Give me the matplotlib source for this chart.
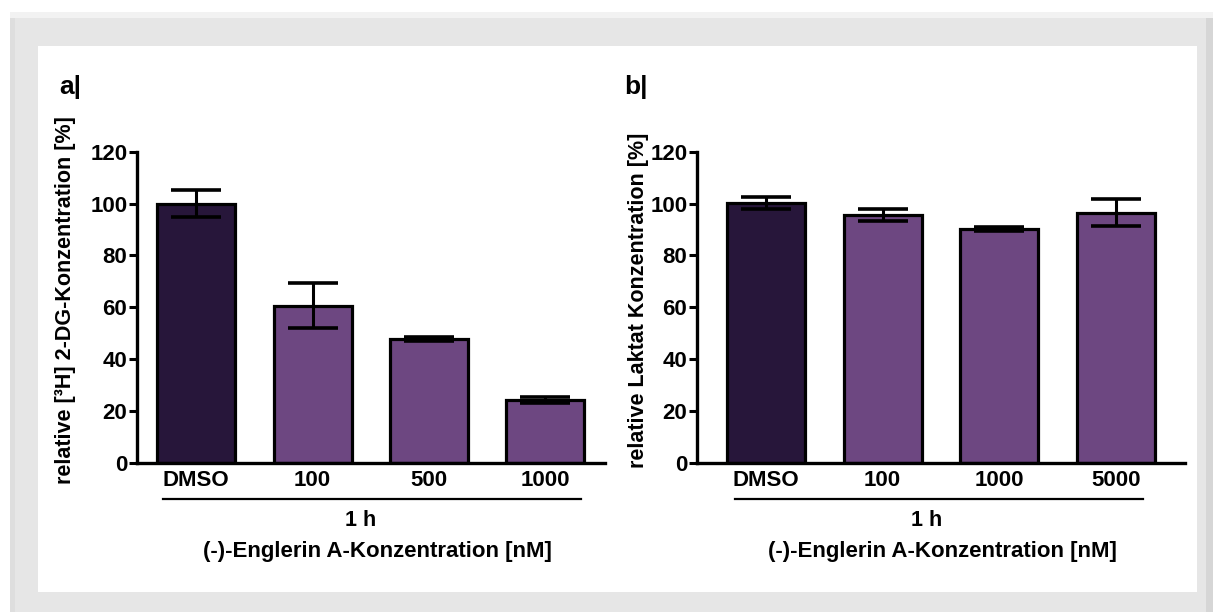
import matplotlib
matplotlib.use('Agg')
import matplotlib.pyplot as plt
from matplotlib.patches import Rectangle
from matplotlib.lines import Line2D

plt.rcParams['font.family'] = ['Liberation Sans', 'DejaVu Sans']
plt.rcParams['font.weight'] = 'bold'

# panel a: 2-DG uptake
A_CATEGORIES = ['DMSO', '100', '500', '1000']
A_VALUES = [100.0, 60.6, 47.8, 24.2]
A_ERRORS = [5.2, 8.7, 0.8, 1.0]

# panel b: lactate
B_CATEGORIES = ['DMSO', '100', '1000', '5000']
B_VALUES = [100.2, 95.7, 90.3, 96.5]
B_ERRORS = [2.5, 2.3, 0.8, 5.2]

Y_TICKS = [0, 20, 40, 60, 80, 100, 120]

DARK = '#27163a'
PURPLE = '#6d4781'

W, H = 1213, 612


def fx(px):
    return px / W


def fy(py):
    return 1 - py / H


fig = plt.figure(figsize=(W / 100, H / 100), dpi=100)

# bevelled grey frame around the white area
fig.patches.append(Rectangle((fx(10), 0), fx(1203), fy(12), transform=fig.transFigure,
                             facecolor='#e6e6e6', edgecolor='none', zorder=-10))
fig.patches.append(Rectangle((fx(10), 0), fx(5), fy(12), transform=fig.transFigure,
                             facecolor='#dedede', edgecolor='none', zorder=-9))
fig.patches.append(Rectangle((fx(1206), 0), fx(7), fy(18), transform=fig.transFigure,
                             facecolor='#d6d6d6', edgecolor='none', zorder=-9))
fig.patches.append(Rectangle((fx(10), fy(18)), fx(1203), 6 / H, transform=fig.transFigure,
                             facecolor='#f2f2f2', edgecolor='none', zorder=-9))
fig.patches.append(Rectangle((fx(38), fy(592)), fx(1159), 546 / H, transform=fig.transFigure,
                             facecolor='white', edgecolor='none', zorder=-8))


def draw_panel(rect, cats, vals, errs, xlim, ylabel, ylabel_x, letter, letter_x,
               line_x, sub_x, xlabel_x):
    ax = fig.add_axes(rect)
    ax.patch.set_alpha(0)
    x = range(len(cats))
    colors = [DARK] + [PURPLE] * (len(cats) - 1)
    ax.bar(x, vals, width=0.67, color=colors, edgecolor='black', linewidth=2.3, zorder=2)
    ax.errorbar(x, vals, yerr=errs, fmt='none', ecolor='black', elinewidth=2.2,
                capsize=18, capthick=2.6, zorder=3)
    ax.set_xlim(*xlim)
    ax.set_ylim(0, 120)
    ax.set_yticks(Y_TICKS)
    ax.set_xticks(list(x))
    ax.set_xticklabels(cats, fontsize=16, fontweight='bold')
    for s in ('top', 'right'):
        ax.spines[s].set_visible(False)
    for s in ('left', 'bottom'):
        ax.spines[s].set_linewidth(2.4)
    ax.tick_params(axis='y', length=6, width=2.2, pad=1, labelsize=16)
    ax.tick_params(axis='x', length=0, pad=5)
    for lab in ax.get_yticklabels():
        lab.set_fontweight('bold')

    fig.text(fx(ylabel_x), fy(300), ylabel, rotation=90, ha='center', va='center',
             fontsize=15.5, fontweight='bold')
    fig.text(fx(letter_x), fy(87), letter, ha='left', va='center',
             fontsize=19, fontweight='bold')
    fig.lines.append(Line2D([fx(line_x[0]), fx(line_x[1])], [fy(499), fy(499)],
                            transform=fig.transFigure, color='black', linewidth=1.6))
    fig.text(fx(sub_x), fy(521), '1 h', ha='center', va='center',
             fontsize=15.5, fontweight='bold')
    fig.text(fx(xlabel_x), fy(551), '(-)-Englerin A-Konzentration [nM]',
             ha='center', va='center', fontsize=16, fontweight='bold')
    return ax


draw_panel([fx(137), fy(462.7), fx(605 - 137), (462.7 - 151.7) / H],
           A_CATEGORIES, A_VALUES, A_ERRORS, (-0.51, 3.515),
           'relative [³H] 2-DG-Konzentration [%]', 66, 'a|', 59,
           (163, 581), 361, 377)

draw_panel([fx(697), fy(462.7), fx(1185 - 697), (462.7 - 151.7) / H],
           B_CATEGORIES, B_VALUES, B_ERRORS, (-0.59, 3.59),
           'relative Laktat Konzentration [%]', 638, 'b|', 624,
           (735, 1143), 927, 942)

fig.savefig('out.png', dpi=100)
